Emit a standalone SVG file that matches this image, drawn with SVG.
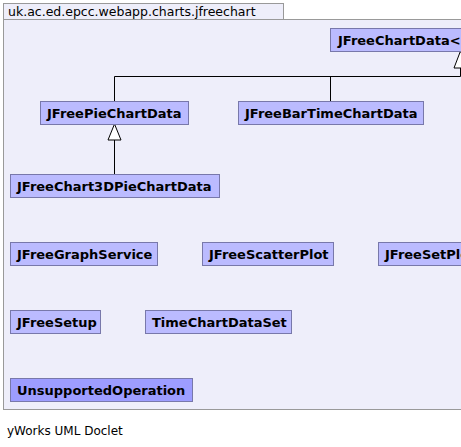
<svg xmlns="http://www.w3.org/2000/svg" width="461" height="447" viewBox="0 0 461 447">
<style>
.pkg{fill:#eeeefa;stroke:#999999;stroke-width:1}
.n rect{fill:#bbbbff;stroke:#7878aa;stroke-width:1}
.n.d rect{fill:#9d9dff}
.n text{font-family:"DejaVu Sans",sans-serif;font-weight:bold;font-size:13px;fill:#000}
.e{stroke:#000;stroke-width:1;fill:none}
.h{fill:#fff;stroke:#000;stroke-width:1}
</style>
<rect class="pkg" x="3.5" y="3.5" width="280" height="16"/>
<rect class="pkg" x="3.5" y="19.5" width="470" height="390"/>
<text x="8" y="16" font-family="DejaVu Sans,sans-serif" font-size="12.5" fill="#000">uk.ac.ed.epcc.webapp.charts.jfreechart</text>
<g id="connectors">
<path class="e" d="M114.5 102V76.5H460.5M330.5 76.5V102M460.5 76.5V68"/>
<polygon class="h" points="460.5,51 454,68 467,68"/>
<path class="e" d="M114.5 174V140"/>
<polygon class="h" points="114.5,124 108,140 121,140"/>
</g>
<g id="JFreeChartData" class="n"><rect x="330.5" y="28.5" width="150" height="23"/><text x="338" y="45">JFreeChartData&lt;</text></g>
<g id="JFreePieChartData" class="n"><rect x="40.5" y="101.5" width="148" height="23"/><text x="47" y="118">JFreePieChartData</text></g>
<g id="JFreeBarTimeChartData" class="n"><rect x="238.5" y="101.5" width="185" height="23"/><text x="245" y="118">JFreeBarTimeChartData</text></g>
<g id="JFreeChart3DPieChartData" class="n"><rect x="10.5" y="174.5" width="209" height="23"/><text x="17" y="191">JFreeChart3DPieChartData</text></g>
<g id="JFreeGraphService" class="n"><rect x="10.5" y="242.5" width="147" height="23"/><text x="17" y="259">JFreeGraphService</text></g>
<g id="JFreeScatterPlot" class="n"><rect x="202.5" y="242.5" width="131" height="23"/><text x="209" y="259">JFreeScatterPlot</text></g>
<g id="JFreeSetPlot" class="n"><rect x="378.5" y="242.5" width="120" height="23"/><text x="385" y="259">JFreeSetPlot</text></g>
<g id="JFreeSetup" class="n"><rect x="10.5" y="310.5" width="90" height="23"/><text x="17" y="327">JFreeSetup</text></g>
<g id="TimeChartDataSet" class="n"><rect x="145.5" y="310.5" width="146" height="23"/><text x="152" y="327">TimeChartDataSet</text></g>
<g id="UnsupportedOperation" class="n d"><rect x="10.5" y="378.5" width="182" height="23"/><text x="17" y="395">UnsupportedOperation</text></g>
<text x="7" y="435" font-family="DejaVu Sans,sans-serif" font-size="12" fill="#000">yWorks UML Doclet</text>
</svg>
